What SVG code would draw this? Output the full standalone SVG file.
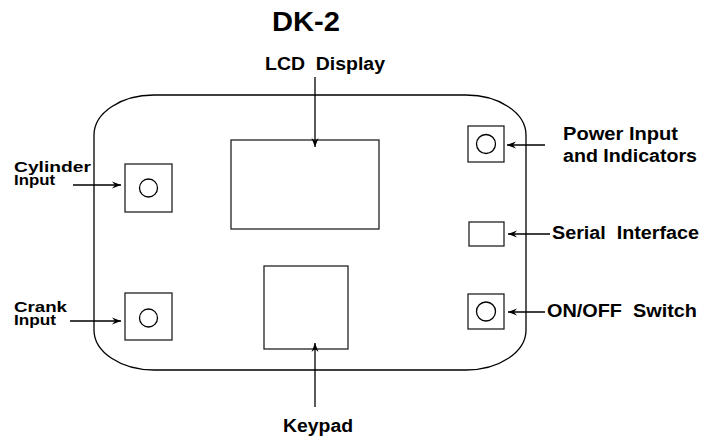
<svg xmlns="http://www.w3.org/2000/svg" width="703" height="440" viewBox="0 0 703 440" xml:space="preserve">
<style>
.ln{fill:none;stroke:#000;stroke-width:1.3}
.bx{fill:#fff;stroke:#222;stroke-width:1.3}
.t{font-family:"Liberation Sans",Arial,sans-serif;font-weight:bold;fill:#000;white-space:pre}
.s{font-size:15.5px}
.m{font-size:17.5px}
</style>
<defs>
<marker id="ah" markerUnits="userSpaceOnUse" markerWidth="10" markerHeight="8" refX="9" refY="4" orient="auto">
<path d="M0,0.5 L9,4 L0,7.5 L3,4 Z" fill="#000"/>
</marker>
</defs>
<rect id="housing" x="94" y="95" width="432" height="275" rx="60" ry="40" class="ln" stroke="#222"/>
<text class="t" x="272" y="31" font-size="27.5" textLength="68" lengthAdjust="spacingAndGlyphs">DK-2</text>
<g id="lcd">
<rect class="bx" x="231" y="140" width="148" height="89"/>
<text class="t m" x="265" y="70" textLength="120" lengthAdjust="spacingAndGlyphs">LCD  Display</text>
</g>
<g id="keypad">
<rect class="bx" x="264" y="266" width="84" height="83"/>
<text class="t m" x="283" y="432" textLength="70" lengthAdjust="spacingAndGlyphs">Keypad</text>
</g>
<g id="cylinder">
<rect class="bx" x="125" y="164" width="47" height="48"/>
<circle class="ln" cx="148.5" cy="188" r="9"/>
<text class="t s" x="14" y="171.5" textLength="77" lengthAdjust="spacingAndGlyphs">Cylinder</text>
<text class="t s" x="14" y="184.5" textLength="41" lengthAdjust="spacingAndGlyphs">Input</text>
</g>
<g id="crank">
<rect class="bx" x="125" y="293" width="47" height="47"/>
<circle class="ln" cx="148.5" cy="318" r="9"/>
<text class="t s" x="14" y="311.5" textLength="53" lengthAdjust="spacingAndGlyphs">Crank</text>
<text class="t s" x="14" y="324.5" textLength="42" lengthAdjust="spacingAndGlyphs">Input</text>
</g>
<g id="power">
<rect class="bx" x="468" y="126" width="36" height="36"/>
<circle class="ln" cx="486" cy="144" r="9.5"/>
<text class="t m" x="563" y="139.5" textLength="115" lengthAdjust="spacingAndGlyphs">Power Input</text>
<text class="t m" x="563" y="161.5" textLength="134" lengthAdjust="spacingAndGlyphs">and Indicators</text>
</g>
<g id="serial">
<rect class="bx" x="469" y="222" width="35" height="24"/>
<text class="t m" x="552" y="239" textLength="147" lengthAdjust="spacingAndGlyphs">Serial  Interface</text>
</g>
<g id="onoff">
<rect class="bx" x="468" y="294" width="36" height="35"/>
<circle class="ln" cx="486" cy="311.5" r="9.5"/>
<text class="t m" x="547" y="317" textLength="150" lengthAdjust="spacingAndGlyphs">ON/OFF  Switch</text>
</g>
<g id="connectors" class="ln" marker-end="url(#ah)">
<path d="M315,77 L315,147"/>
<path d="M315,407 L315,343"/>
<path d="M73,185 L121,185"/>
<path d="M70,321 L121,321"/>
<path d="M545,145 L507,145"/>
<path d="M550,234 L508,234"/>
<path d="M545,312 L508,312"/>
</g>
</svg>
